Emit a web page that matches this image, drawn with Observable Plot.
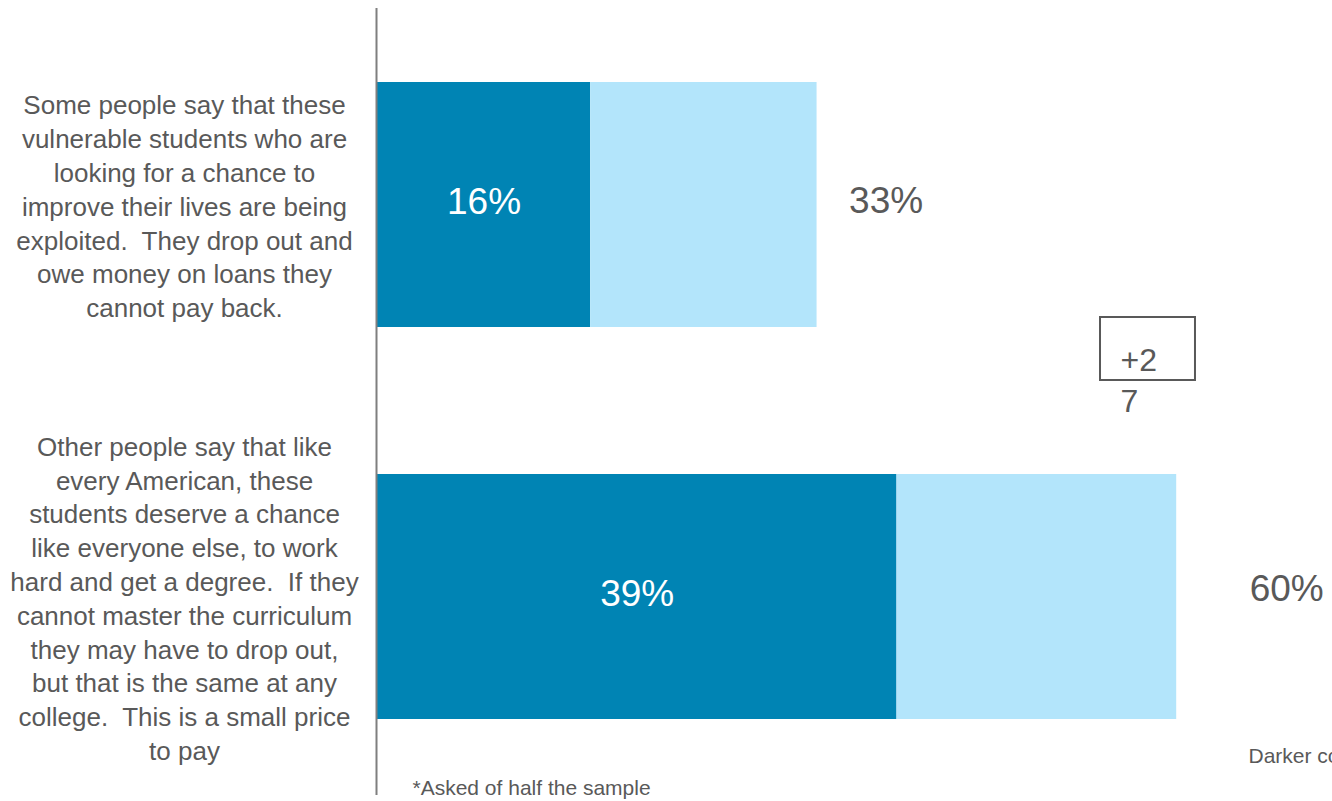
<!DOCTYPE html>
<html><head><meta charset="utf-8">
<script src="https://cdn.jsdelivr.net/npm/d3@7"></script>
<script src="https://cdn.jsdelivr.net/npm/@observablehq/plot@0.6"></script>
<style>body{margin:0;background:#fff;overflow:hidden}</style>
</head><body><div id="chart"></div>
<script>
// ---- data ----
const statements = [
  "Some people say that these\nvulnerable students who are\nlooking for a chance to\nimprove their lives are being\nexploited.  They drop out and\nowe money on loans they\ncannot pay back.",
  "Other people say that like\nevery American, these\nstudents deserve a chance\nlike everyone else, to work\nhard and get a degree.  If they\ncannot master the curriculum\nthey may have to drop out,\nbut that is the same at any\ncollege.  This is a small price\nto pay"
];
const strongValues = [16, 39];
const totalValues = [33, 60];
const differenceLabel = "+27";
const footnote = "*Asked of half the sample";
const legendNote = "Darker colors indicate intensity";

// ---- styles ----
const dark = "#0084B4", light = "#B3E5FB", gray = "#595959";
const rows = statements.map((s, i) => ({statement: s, strong: strongValues[i], total: totalValues[i]}));

const chart = Plot.plot({
  width: 1332, height: 801,
  marginLeft: 377, marginRight: 0, marginTop: 8, marginBottom: 6,
  style: {fontFamily: "'Liberation Sans', Arial, sans-serif", background: "#fff"},
  x: {domain: [0, 100], range: [377, 1709], axis: null},
  y: {domain: statements, range: [82, 719], paddingInner: 0.375, paddingOuter: 0, axis: null},
  marks: [
    Plot.barX(rows, {y: "statement", x1: d => 0, x2: "strong", fill: dark}),
    Plot.barX(rows, {y: "statement", x1: "strong", x2: "total", fill: light}),
    Plot.ruleX([0], {stroke: "#7f7f7f", strokeWidth: 2, dx: -1}),
    Plot.text(rows, {y: "statement", text: "statement", frameAnchor: "left", dx: -193, textAnchor: "middle", lineAnchor: "middle", fontSize: 26, lineHeight: 1.3, fill: gray}),
    Plot.text(rows, {y: "statement", x: d => d.strong / 2, text: d => d.strong + "%", fill: "white", fontSize: 37, dy: -3}),
    Plot.text(rows.slice(0, 1), {y: "statement", x: "total", text: d => d.total + "%", fill: gray, fontSize: 37, textAnchor: "start", dx: 32, dy: -4}),
    Plot.text(rows.slice(1, 2), {y: "statement", x: "total", text: d => d.total + "%", fill: gray, fontSize: 37, textAnchor: "start", dx: 73, dy: -8}),
    Plot.rect([differenceLabel], {x1: 54.28, x2: 61.41, insetTop: 309, insetBottom: 415, fill: "none", stroke: gray, strokeWidth: 2}),
    Plot.text([differenceLabel], {x: 54.28, text: d => d.slice(0, 2) + "\n" + d.slice(2), frameAnchor: "top", lineAnchor: "top", dy: 333, dx: 20, textAnchor: "start", fontSize: 32, lineHeight: 1.28, fill: gray}),
    Plot.text([footnote], {frameAnchor: "bottom-left", textAnchor: "start", lineAnchor: "middle", dx: 35, dy: -7, fontSize: 21, fill: gray}),
    Plot.text([legendNote], {frameAnchor: "bottom-left", textAnchor: "start", lineAnchor: "middle", dx: 871, dy: -39, fontSize: 21, fill: gray})
  ]
});
document.getElementById("chart").appendChild(chart);
</script>
</body></html>
